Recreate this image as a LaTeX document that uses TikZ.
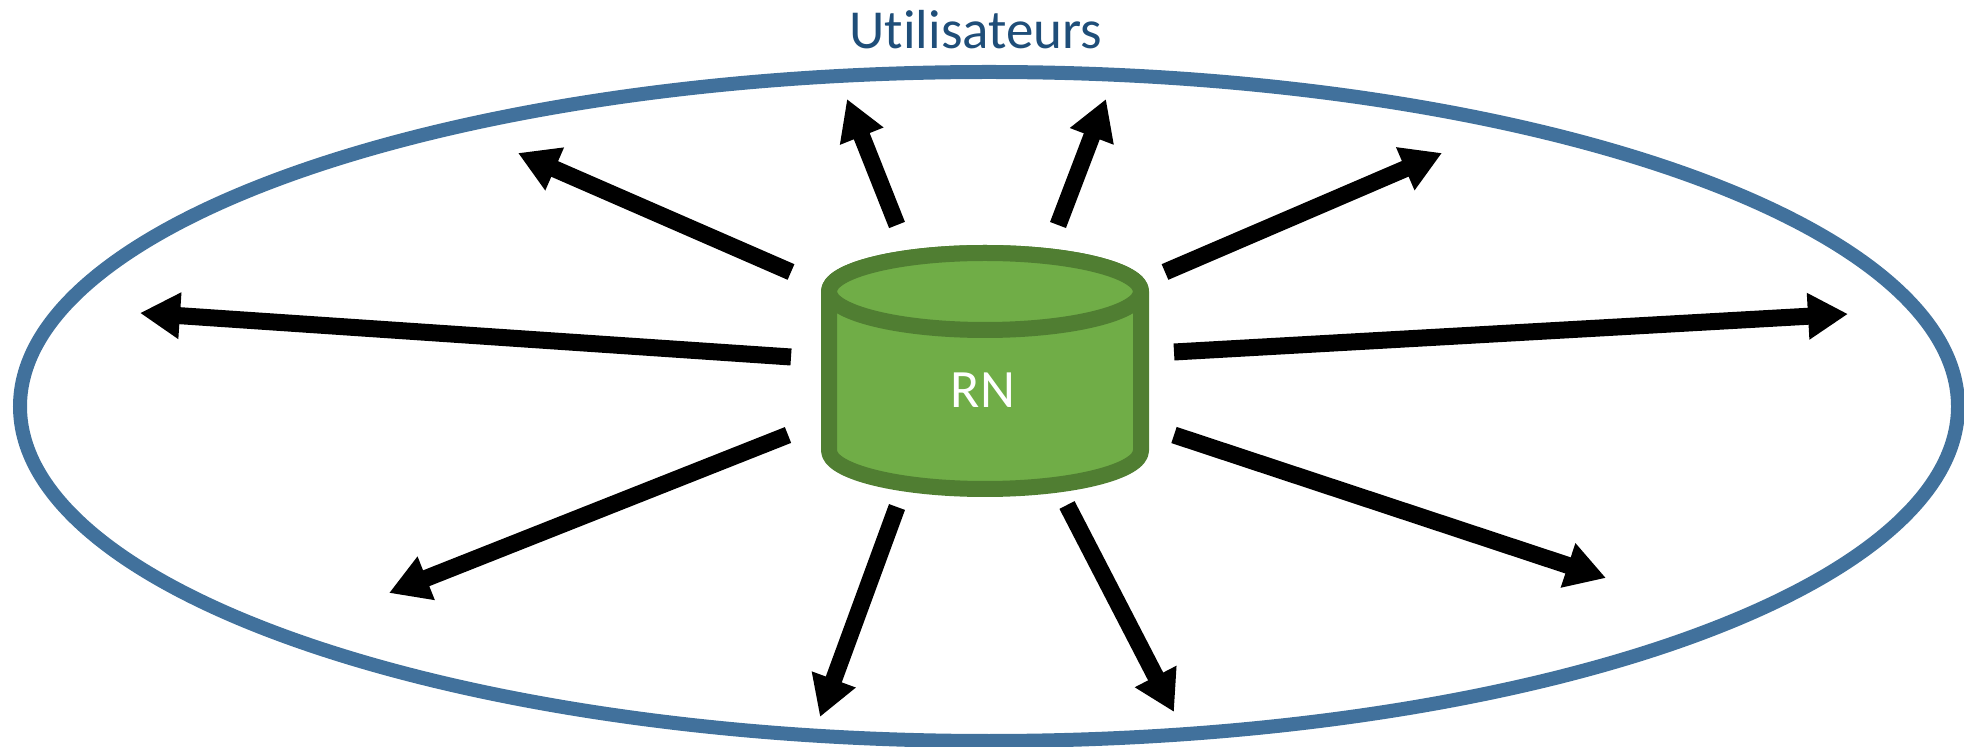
\documentclass[tikz,border=0pt]{standalone}
\usepackage{fontspec}
\setmainfont{Carlito}[Ligatures=NoCommon]
\usetikzlibrary{arrows.meta}
\definecolor{ringblue}{HTML}{41719C}
\definecolor{titleblue}{HTML}{1F4E79}
\definecolor{cylfill}{HTML}{70AD47}
\definecolor{cylline}{HTML}{507E32}
\tikzset{
  ray/.style={line width=8.5pt, -{Triangle[length=20pt,width=22pt]}},
  ring/.style={draw=ringblue, line width=7pt},
  cyl/.style={fill=cylfill, draw=cylline, line width=8pt, line join=round},
}
\begin{document}
\begin{tikzpicture}[x=0.5pt,y=-0.5pt]
\useasboundingbox (0,0) rectangle (1964,747);
% outer ellipse
\draw[ring] (989,406.5) ellipse (969 and 334.5);
\node[text=titleblue, font=\fontsize{27.5}{30}\selectfont, anchor=base] (title) at (976,49) {Utilisateurs};
% cylinder
\draw[cyl] (829,291.5) -- (829,450.5) arc (180:0:156 and 38.5) -- (1141,291.5) arc (360:180:156 and 38.5) -- cycle;
\draw[cyl] (985,291.5) ellipse (156 and 38.5);
\node[text=white, font=\fontsize{27}{30}\selectfont, anchor=base] (rn) at (983,408) {RN};
% arrow ends
\coordinate (t1) at (791,272);  \coordinate (h1) at (518,153);
\coordinate (t2) at (897,225);  \coordinate (h2) at (847,99);
\coordinate (t3) at (1058,225); \coordinate (h3) at (1106,99);
\coordinate (t4) at (1165,272); \coordinate (h4) at (1442,153);
\coordinate (t5) at (791,357);  \coordinate (h5) at (140,313);
\coordinate (t6) at (1174,352); \coordinate (h6) at (1848,314);
\coordinate (t7) at (788,435);  \coordinate (h7) at (389,593);
\coordinate (t8) at (897,507);  \coordinate (h8) at (820,717);
\coordinate (t9) at (1067,505); \coordinate (h9) at (1174,712);
\coordinate (t10) at (1174,435); \coordinate (h10) at (1606,578);
\foreach \i in {1,...,10} \draw[ray] (t\i) -- (h\i);
\end{tikzpicture}
\end{document}
